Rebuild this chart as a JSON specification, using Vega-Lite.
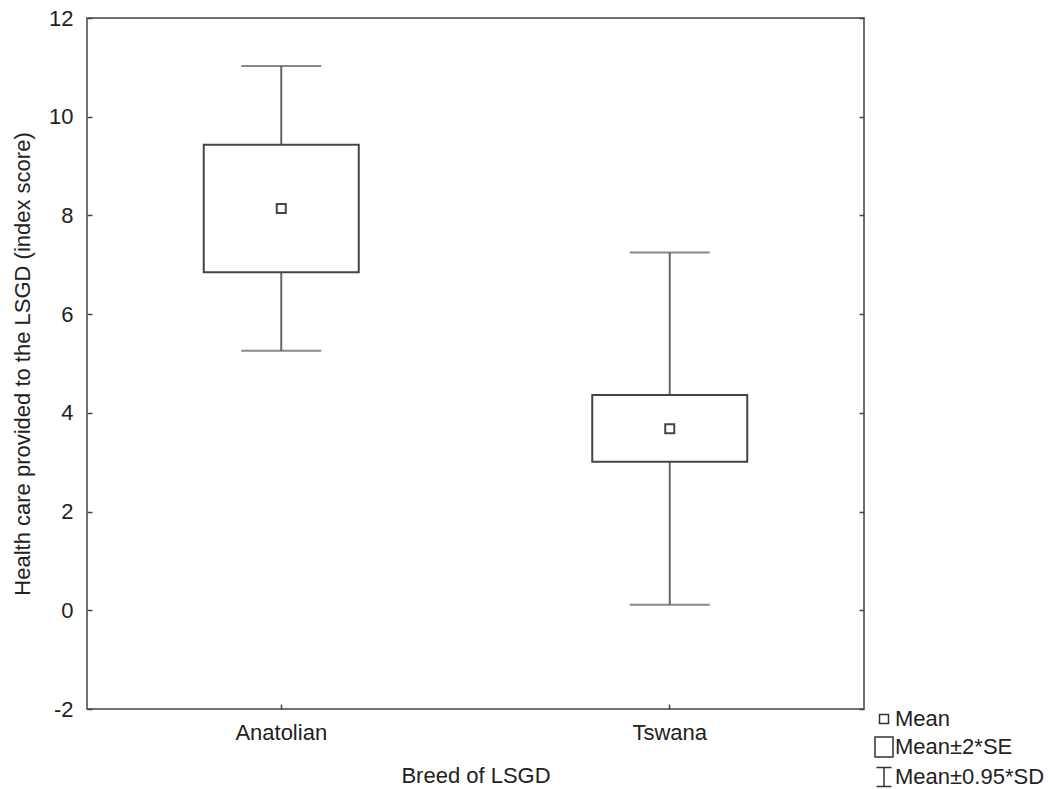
{
  "$schema": "https://vega.github.io/schema/vega-lite/v6.json",
  "width": 777,
  "height": 691,
  "autosize": {"type": "none"},
  "padding": {"left": 87, "top": 18, "right": 188, "bottom": 80},
  "background": "white",
  "config": {
    "view": {"stroke": "#444444", "strokeWidth": 1.5},
    "font": "Liberation Sans",
    "axis": {
      "labelFont": "Liberation Sans",
      "titleFont": "Liberation Sans",
      "labelFontSize": 22,
      "titleFontSize": 22,
      "titleFontWeight": "normal",
      "labelColor": "#222222",
      "titleColor": "#222222",
      "grid": false,
      "domain": false,
      "tickSize": -5,
      "tickColor": "#444444",
      "tickWidth": 1.5
    },
    "legend": {
      "labelFont": "Liberation Sans",
      "labelFontSize": 22,
      "labelColor": "#222222"
    }
  },
  "data": {
    "values": [
      {"breed": "Anatolian", "mean": 8.14, "se_lo": 6.85, "se_hi": 9.43, "sd_lo": 5.26, "sd_hi": 11.03},
      {"breed": "Tswana", "mean": 3.68, "se_lo": 3.01, "se_hi": 4.36, "sd_lo": 0.11, "sd_hi": 7.25}
    ]
  },
  "encoding": {
    "x": {
      "field": "breed",
      "type": "nominal",
      "scale": {"paddingInner": 0, "paddingOuter": 0},
      "axis": {"title": "Breed of LSGD", "labelAngle": 0, "labelPadding": 18, "titlePadding": 22}
    }
  },
  "layer": [
    {
      "mark": {"type": "rule", "color": "#666666", "strokeWidth": 2},
      "encoding": {
        "y": {
          "field": "sd_lo",
          "type": "quantitative",
          "scale": {"domain": [-2, 12], "nice": false, "zero": false},
          "axis": {
            "title": "Health care provided to the LSGD (index score)",
            "values": [-2, 0, 2, 4, 6, 8, 10, 12],
            "labelExpr": "replace(datum.label, '−', '-')",
            "labelPadding": 19,
            "titlePadding": 14
          }
        },
        "y2": {"field": "sd_hi"}
      }
    },
    {
      "mark": {"type": "tick", "color": "#555555", "size": 80, "thickness": 2, "orient": "horizontal"},
      "encoding": {"y": {"field": "sd_hi", "type": "quantitative", "axis": null}}
    },
    {
      "mark": {"type": "tick", "color": "#555555", "size": 80, "thickness": 2, "orient": "horizontal"},
      "encoding": {"y": {"field": "sd_lo", "type": "quantitative", "axis": null}}
    },
    {
      "mark": {"type": "bar", "fill": "white", "stroke": "#444444", "strokeWidth": 2, "size": 155},
      "encoding": {
        "y": {"field": "se_lo", "type": "quantitative", "axis": null},
        "y2": {"field": "se_hi"}
      }
    },
    {
      "mark": {"type": "point", "filled": false, "stroke": "#444444", "strokeWidth": 2, "size": 400, "opacity": 1},
      "encoding": {
        "y": {
          "field": "mean",
          "type": "quantitative",
          "axis": {"orient": "right", "labels": false, "title": null, "values": [-2, 0, 2, 4, 6, 8, 10, 12]}
        },
        "shape": {
          "datum": "Mean",
          "scale": {
            "domain": ["Mean", "Mean±2*SE", "Mean±0.95*SD"],
            "range": [
              "M-0.45,-0.45H0.45V0.45H-0.45Z",
              "M-0.9,-1H0.9V1H-0.9Z",
              "M-0.75,-0.95H0.75M0,-0.95V0.95M-0.75,0.95H0.75"
            ]
          },
          "legend": {
            "title": null,
            "orient": "none",
            "legendX": 786,
            "legendY": 690,
            "padding": 0,
            "symbolSize": 400,
            "symbolStrokeColor": "#333333",
            "symbolStrokeWidth": 1.5,
            "symbolFillColor": "transparent",
            "labelOffset": 0,
            "rowPadding": 4
          }
        }
      }
    }
  ],
  "resolve": {"axis": {"y": "independent"}}
}
